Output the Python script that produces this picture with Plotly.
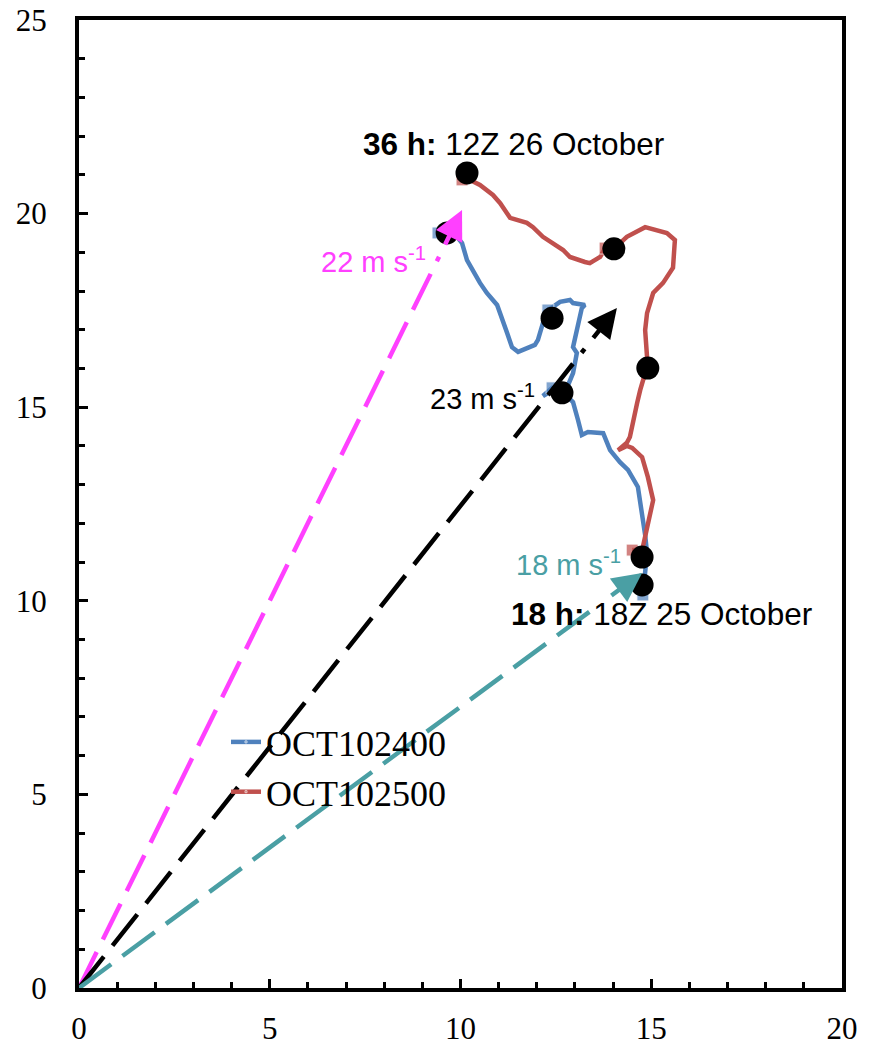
import plotly.graph_objects as go
import math

# ---------------- data ----------------
blue_x = [14.78, 14.84, 14.89, 14.84, 14.78, 14.65, 14.39, 14.18, 13.92, 13.74, 13.34, 13.18,
          13.08, 12.95, 12.82, 12.66, 12.40, 12.16, 12.47, 12.82, 12.95, 13.05, 12.95, 13.05,
          13.18, 13.26, 12.95, 12.87, 12.61, 12.42, 12.29, 12.21, 12.16, 12.03, 11.95, 11.51,
          11.35, 11.22, 11.09, 10.96, 10.69, 10.51, 10.17, 10.04, 9.91, 9.65, 9.41]
blue_y = [10.15, 10.67, 11.23, 11.70, 12.09, 12.94, 13.38, 13.58, 13.89, 14.33, 14.36, 14.28,
          14.67, 15.13, 15.26, 15.37, 15.50, 15.29, 15.47, 15.57, 15.88, 16.40, 16.55, 16.99,
          17.56, 17.64, 17.69, 17.77, 17.72, 17.59, 17.51, 17.30, 17.17, 16.74, 16.61, 16.43,
          16.55, 16.92, 17.30, 17.64, 17.95, 18.21, 18.80, 19.24, 19.40, 19.50, 19.50]
blue_square_idx = [0, 16, 30, 46]

red_x = [14.50, 14.78, 14.78, 14.89, 15.02, 15.05, 14.91, 14.76, 14.50, 14.36, 14.13, 14.36,
         14.44, 14.52, 14.63, 14.71, 14.84, 14.91, 14.89, 14.84, 14.89, 15.05, 15.31, 15.57,
         15.62, 15.41, 14.84, 14.71, 14.36, 14.02, 13.79, 13.66, 13.39, 13.26, 12.87, 12.69,
         12.16, 11.90, 11.74, 11.30, 11.04, 10.85, 10.51, 10.25, 10.04]
red_y = [11.31, 11.31, 11.39, 11.91, 12.42, 12.60, 13.20, 13.71, 13.95, 14.00, 13.89, 14.08,
         14.23, 14.67, 15.11, 15.44, 15.88, 16.01, 16.40, 16.99, 17.43, 17.95, 18.21, 18.60,
         19.32, 19.50, 19.65, 19.58, 19.40, 19.09, 19.11, 18.88, 18.72, 18.75, 18.88, 19.06,
         19.40, 19.65, 19.76, 19.89, 20.27, 20.48, 20.74, 20.87, 20.87]
red_square_idx = [0, 17, 30, 44]

dot_x = [10.17, 9.65, 14.02, 12.40, 14.91, 12.66, 14.76, 14.76]
dot_y = [21.05, 19.50, 19.09, 17.30, 16.01, 15.37, 11.13, 10.41]

# storm-motion vectors (tip of each arrow, from origin)
vec_names = ["22 m s<sup>-1</sup>", "23 m s<sup>-1</sup>", "18 m s<sup>-1</sup>"]
vec_tip_x = [10.04, 14.10, 14.76]
vec_tip_y = [20.09, 17.56, 10.72]
vec_colors = ["#FF40FF", "#000000", "#4A9FA4"]
vec_label_x = [9.15, 12.0, 14.26]
vec_label_y = [18.80, 15.26, 10.98]

time_labels = ["<b>36 h:</b> 12Z 26 October", "<b>18 h:</b> 18Z 25 October"]
time_label_x = [11.38, 15.26]
time_label_y = [21.80, 9.66]

x_range = [0, 20]
y_range = [0, 25]

BLUE = "#4F81BD"
RED = "#C0504D"

# ---------------- figure ----------------
W, H = 869, 1047
ml, mr, mt, mb = 79, 27, 20, 59
sx = (W - ml - mr) / (x_range[1] - x_range[0])
sy = (H - mt - mb) / (y_range[1] - y_range[0])

fig = go.Figure()

def sizes(n, idx, s):
    return [s if i in idx else 0 for i in range(n)]

fig.add_trace(go.Scatter(x=blue_x, y=blue_y, mode="lines+markers", name="OCT102400",
                         line=dict(color=BLUE, width=4.5),
                         marker=dict(symbol="square", color=BLUE,
                                     size=sizes(len(blue_x), blue_square_idx, 12))))
fig.add_trace(go.Scatter(x=red_x, y=red_y, mode="lines+markers", name="OCT102500",
                         line=dict(color=RED, width=4.5),
                         marker=dict(symbol="square", color=RED,
                                     size=sizes(len(red_x), red_square_idx, 12))))
fig.add_trace(go.Scatter(x=dot_x, y=dot_y, mode="markers", showlegend=False,
                         marker=dict(color="black", size=23)))

annotations = []
for name, tx, ty, col, lx, ly in zip(vec_names, vec_tip_x, vec_tip_y, vec_colors,
                                     vec_label_x, vec_label_y):
    px, py = tx * sx, ty * sy
    L = math.hypot(px, py)
    ux, uy = px / L, py / L
    stem = 40
    gap = 12
    tail_x = tx - stem * ux / sx
    tail_y = ty - stem * uy / sy
    end_x = tx - (stem + gap) * ux / sx
    end_y = ty - (stem + gap) * uy / sy
    fig.add_trace(go.Scatter(x=[0, end_x], y=[0, end_y], mode="lines", showlegend=False,
                             line=dict(color=col, width=4.5, dash="40px,14px")))
    annotations.append(dict(x=tx, y=ty, ax=tail_x, ay=tail_y, xref="x", yref="y",
                            axref="x", ayref="y", text="", showarrow=True,
                            arrowhead=2, arrowsize=1.3, arrowwidth=4.5, arrowcolor=col))
    annotations.append(dict(x=lx, y=ly, xref="x", yref="y", text=name, showarrow=False,
                            xanchor="right", yanchor="middle",
                            font=dict(family="Liberation Sans", size=29, color=col)))

for t, x, y in zip(time_labels, time_label_x, time_label_y):
    annotations.append(dict(x=x, y=y, xref="x", yref="y", text=t, showarrow=False,
                            xanchor="center", yanchor="middle",
                            font=dict(family="Liberation Sans", size=31.5, color="black")))

SERIF = "Liberation Serif"
axis_common = dict(showgrid=False, zeroline=False, showline=True, linecolor="black",
                   linewidth=4, mirror=True, ticks="inside", ticklen=9, tickwidth=3,
                   tickcolor="black", dtick=5, tick0=0, automargin=False,
                   minor=dict(dtick=1, ticks="inside", ticklen=6, tickwidth=3,
                              tickcolor="black", showgrid=False))

fig.update_xaxes(range=x_range, ticklabelstandoff=10, **axis_common)
fig.update_yaxes(range=y_range, ticklabelstandoff=22, **axis_common)
fig.update_xaxes(tickfont_family=SERIF, tickfont_size=31, tickfont_color="black")
fig.update_yaxes(tickfont_family=SERIF, tickfont_size=31, tickfont_color="black")

fig.update_layout(
    width=W, height=H,
    margin=dict(l=ml, r=mr, t=mt, b=mb, autoexpand=False),
    plot_bgcolor="white", paper_bgcolor="white",
    font=dict(family=SERIF, color="black"),
    annotations=annotations,
    legend=dict(x=(226 - ml) / (W - ml - mr), y=(988 - 712) / (H - mt - mb),
                xanchor="left", yanchor="top", bgcolor="rgba(0,0,0,0)",
                font=dict(family=SERIF, size=36, color="black"),
                tracegroupgap=0),
)

fig.write_html("out.html", config={"displayModeBar": False},
               post_script="document.body.style.margin='0';document.body.style.overflow='hidden';")
